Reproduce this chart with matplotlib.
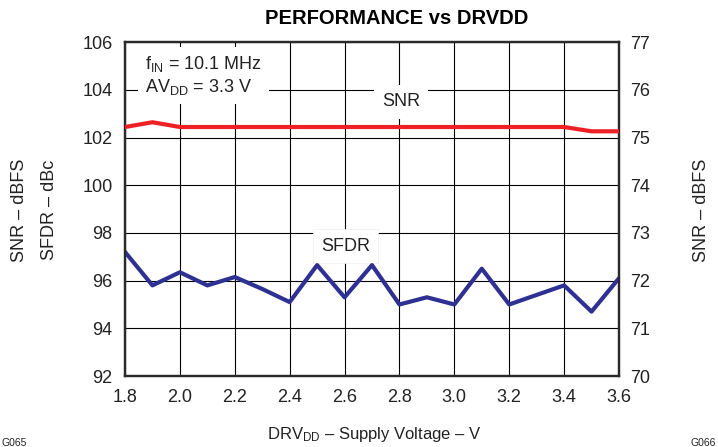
import matplotlib
matplotlib.use("Agg")
import matplotlib.pyplot as plt

plt.rcParams['font.family'] = ['Liberation Sans', 'DejaVu Sans']
plt.rcParams['mathtext.fontset'] = 'custom'
plt.rcParams['mathtext.rm'] = 'Liberation Sans'
plt.rcParams['mathtext.it'] = 'Liberation Sans'

# supply voltage sweep (V)
drvdd = [1.8, 1.9, 2.0, 2.1, 2.2, 2.3, 2.4, 2.5, 2.6, 2.7,
         2.8, 2.9, 3.0, 3.1, 3.2, 3.3, 3.4, 3.5, 3.6]
# SFDR in dBc (left axis)
sfdr = [97.2, 95.8, 96.35, 95.8, 96.15, 95.65, 95.1, 96.65, 95.3, 96.65,
        95.0, 95.3, 95.0, 96.5, 95.0, 95.4, 95.8, 94.7, 96.1]
# SNR in dBFS (right axis)
snr = [75.22, 75.32, 75.22, 75.22, 75.22, 75.22, 75.22, 75.22, 75.22, 75.22,
       75.22, 75.22, 75.22, 75.22, 75.22, 75.22, 75.22, 75.13, 75.13]

x_ticks = [1.8, 2.0, 2.2, 2.4, 2.6, 2.8, 3.0, 3.2, 3.4, 3.6]
left_ticks = [92, 94, 96, 98, 100, 102, 104, 106]
right_ticks = [70, 71, 72, 73, 74, 75, 76, 77]

fs = 13
txt = '#222222'

fig = plt.figure(figsize=(7.18, 4.47), dpi=100)
ax = fig.add_axes([0.1741, 0.1588, 0.688, 0.747])
ax2 = ax.twinx()

ax.set_xlim(1.8, 3.6)
ax.set_ylim(92, 106)
ax2.set_ylim(70, 77)
ax.set_xticks(x_ticks)
ax.set_xticklabels([f"{v:.1f}" for v in x_ticks])
ax.set_yticks(left_ticks)
ax2.set_yticks(right_ticks)

ax.set_axisbelow(True)
ax.grid(True, color='black', linewidth=0.8)
ax.tick_params(length=0, labelsize=fs, colors=txt, pad=9)
ax.tick_params(axis='x', pad=9)
ax2.tick_params(length=0, labelsize=fs, colors=txt, pad=8)

for a in (ax, ax2):
    for s in a.spines.values():
        s.set_color('#2a2a2a')
        s.set_linewidth(1.6)

ax.plot(drvdd, sfdr, color='#2e3192', linewidth=3, zorder=4)
ax2.plot(drvdd, snr, color='#ee2026', linewidth=3, zorder=4)

ax.text(1.872, 104.6, "f$_{IN}$ = 10.1 MHz\nAV$_{DD}$ = 3.3 V", fontsize=fs,
        color=txt, va='center', ha='left', linespacing=1.25,
        bbox=dict(facecolor='white', edgecolor='none', pad=5), zorder=3)
ax.text(2.806, 103.5, "SNR", fontsize=fs, color=txt, ha='center',
        va='center', bbox=dict(facecolor='white', edgecolor='none', pad=6), zorder=3)
ax.text(2.603, 97.45, "SFDR", fontsize=fs, color=txt, ha='center',
        va='center', bbox=dict(facecolor='white', edgecolor='#eeeeee', pad=6,
                                linewidth=0.5), zorder=3)

fig.text(397 / 718, 1 - 18 / 447, "PERFORMANCE vs DRVDD", fontsize=14.5,
         fontweight='bold', ha='center', va='center')
fig.text(20 / 718, 1 - 210 / 447, "SNR – dBFS", rotation=90, fontsize=fs,
         color=txt, ha='center', va='center')
fig.text(50 / 718, 1 - 210 / 447, "SFDR – dBc", rotation=90, fontsize=fs,
         color=txt, ha='center', va='center')
fig.text(701 / 718, 1 - 210 / 447, "SNR – dBFS", rotation=90, fontsize=fs,
         color=txt, ha='center', va='center')
fig.text(374 / 718, 1 - 434 / 447, "DRV$_{DD}$ – Supply Voltage – V", fontsize=12,
         color=txt, ha='center', va='center')
fig.text(2 / 718, 1 - 443 / 447, "G065", fontsize=7.5, color=txt,
         ha='left', va='center')
fig.text(716 / 718, 1 - 443 / 447, "G066", fontsize=7.5, color=txt,
         ha='right', va='center')

fig.savefig("out.png", dpi=100)
